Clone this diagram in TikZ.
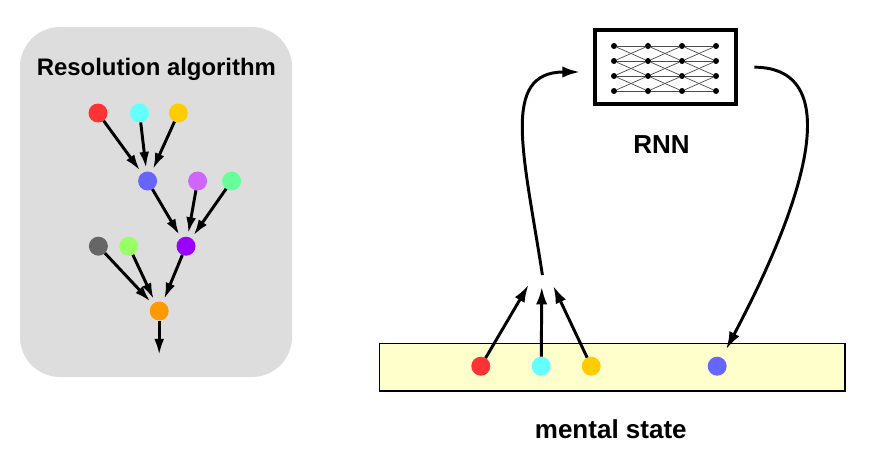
\documentclass[tikz,border=0pt]{standalone}
\usepackage{fontspec}
\setmainfont{Liberation Sans}
\usetikzlibrary{arrows.meta}
\usetikzlibrary{positioning}
\definecolor{boxgray}{HTML}{DDDDDD}
\definecolor{boxyellow}{HTML}{FFFFCC}
\definecolor{dotred}{HTML}{FF3333}
\definecolor{dotcyan}{HTML}{66FFFF}
\definecolor{dotyellow}{HTML}{FFCC00}
\definecolor{dotblue}{HTML}{6666FF}
\definecolor{dotviolet}{HTML}{CC66FF}
\definecolor{dotmint}{HTML}{66FF99}
\definecolor{dotpurple}{HTML}{9900FF}
\definecolor{dotgray}{HTML}{666666}
\definecolor{dotlime}{HTML}{99FF66}
\definecolor{dotorange}{HTML}{FF9900}
\tikzset{> = latex,
	dot/.style={circle,inner sep=0pt,outer sep=0pt,minimum size=0.475cm},
	unit/.style={circle,fill=black,inner sep=0pt,minimum size=0.15cm},
	link/.style={line width=0.5pt,black!70},
	arr/.style={line width=2.1pt,shorten >=2.5pt,-{Latex[length=11.5pt,width=7pt]}},
	flow/.style={line width=2.1pt,-{Latex[length=12.5pt,width=8pt]}},
	title/.style={font=\bfseries\fontsize{17}{20}\selectfont},
	bigtitle/.style={font=\bfseries\fontsize{18.5}{22}\selectfont}}

\begin{document}
\begin{tikzpicture}
	\useasboundingbox (0,0) rectangle (21.75,11.275);
	% resolution tree
	\fill[boxgray,rounded corners=1cm] (0.5,1.85) rectangle (7.3,10.6);
	\node[title,anchor=base] (algo) at (3.91,9.4) {Resolution algorithm};
	\node[dot,fill=dotred] (r) at (2.45,8.45) {};
	\node[dot,fill=dotcyan] (c) at (3.49,8.45) {};
	\node[dot,fill=dotyellow] (y) at (4.46,8.45) {};
	\node[dot,fill=dotblue] (b) at (3.69,6.75) {};
	\node[dot,fill=dotviolet] (v) at (4.94,6.75) {};
	\node[dot,fill=dotmint] (g) at (5.79,6.75) {};
	\node[dot,fill=dotgray] (k) at (2.46,5.12) {};
	\node[dot,fill=dotlime] (l) at (3.22,5.12) {};
	\node[dot,fill=dotpurple] (p) at (4.65,5.12) {};
	\node[dot,fill=dotorange] (o) at (3.98,3.5) {};
	\coordinate (out) at (3.98,2.4);
	\draw[arr] (r) -- (b);
	\draw[arr] (c) -- (b);
	\draw[arr] (y) -- (b);
	\draw[arr] (b) -- (p);
	\draw[arr] (v) -- (p);
	\draw[arr] (g) -- (p);
	\draw[arr] (k) -- (o);
	\draw[arr] (l) -- (o);
	\draw[arr] (p) -- (o);
	\draw[arr,shorten >=0pt] (o) -- (out);
	% network
	\node[draw,line width=2.85pt,minimum width=3.54cm,minimum height=1.86cm] (rnn) at (16.64,9.6) {};
	\foreach \i in {1,...,4}
	    \foreach \j in {1,...,4}
	        \node[unit] (u\i\j) at ({14.5+0.85*\i},{10.5-0.375*\j}) {};
	\foreach \i/\k in {1/2,2/3,3/4}{
	    \foreach \j in {1,...,4}
	        \draw[link] (u\i\j) -- (u\k\j);
	    \foreach \j/\m in {1/2,2/3,3/4}{
	        \draw[link] (u\i\j) -- (u\k\m);
	        \draw[link] (u\i\m) -- (u\k\j);}
	}
	\node[bigtitle,anchor=base] (rnnlabel) at (16.54,7.44) {RNN};
	% mental state
	\node[draw,fill=boxyellow,line width=0.9pt,minimum width=11.63cm,minimum height=1.18cm] (ms) at (15.31,2.09) {};
	\node[dot,fill=dotred] (m1) at (12.02,2.12) {};
	\node[dot,fill=dotcyan] (m2) at (13.53,2.12) {};
	\node[dot,fill=dotyellow] (m3) at (14.78,2.12) {};
	\node[dot,fill=dotblue] (m4) at (17.93,2.12) {};
	\node[bigtitle,anchor=base] (mslabel) at (15.27,0.32) {mental state};
	\coordinate (merge) at (13.55,4.725);
	\coordinate (rise) at (13.56,4.4);
	\draw[flow,shorten >=0.66cm] (m1) -- (merge);
	\draw[flow,shorten >=0.62cm] (m2) -- (merge);
	\draw[flow,shorten >=0.66cm] (m3) -- (merge);
	\draw[flow,shorten >=0.32cm] (rise)
	    .. controls (13.1,7.4) and (12.5,9.475) .. ([yshift=-0.125cm]rnn.west);
	\draw[flow,shorten <=0.4cm,shorten >=0.24cm] (rnn.east)
	    .. controls (21.25,9.575) and (20.0,6.025) .. (m4);
\end{tikzpicture}
\end{document}
